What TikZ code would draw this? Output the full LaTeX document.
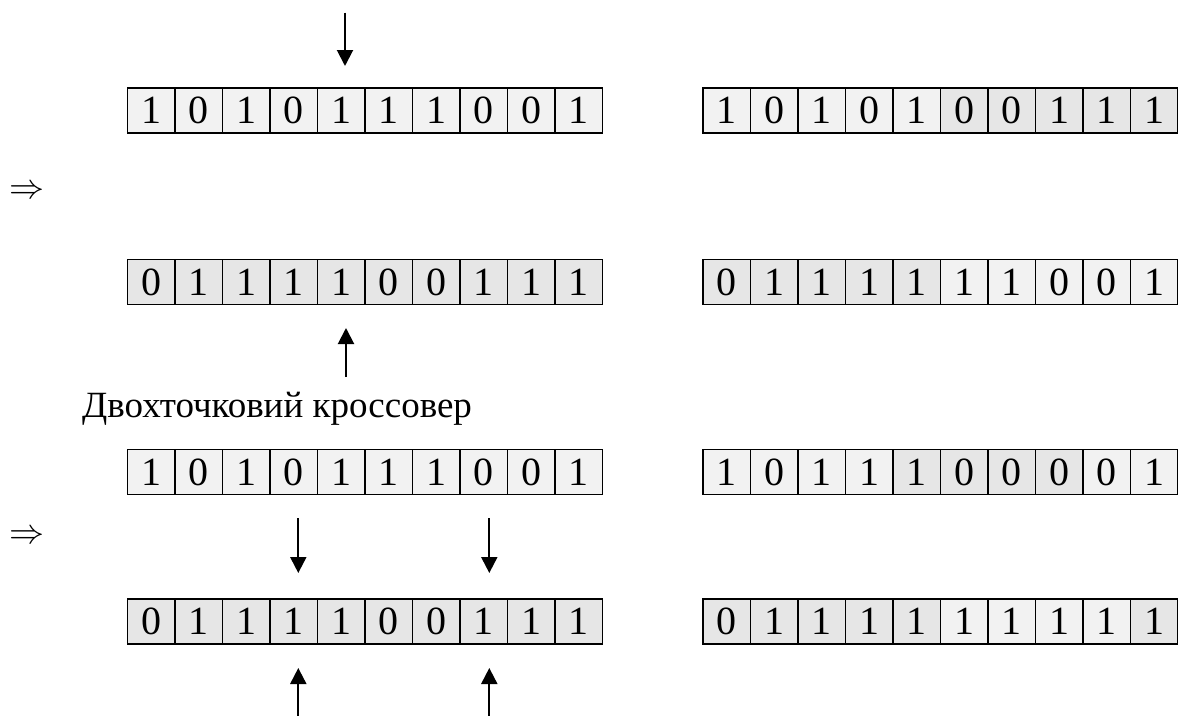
\documentclass[tikz,border=0pt]{standalone}
\usepackage{fontspec}
\setmainfont{Liberation Serif}
\usetikzlibrary{arrows.meta}
\definecolor{cellA}{HTML}{F2F2F2}
\definecolor{cellB}{HTML}{E6E6E6}
\newcommand\bitrow[4]{%
  \foreach \b/\f [count=\i] in {#4} {
    \node[bit,fill=\f] (#1-\i) at ({#2+(\i-0.5)*47.5},#3) {\b};
  }}
\begin{document}
\begin{tikzpicture}[x=1pt,y=-1pt,
  bit/.style={draw=black,line width=1.8pt,minimum width=47.5pt,minimum height=45pt,
    inner sep=0pt,outer sep=0pt,font=\fontsize{40}{42}\selectfont},
  ptr/.style={line width=2pt,-{Triangle[width=16pt,length=16pt]}},
  lbl/.style={inner sep=0pt,font=\fontsize{37}{40}\selectfont},
  impl/.style={inner sep=0pt,scale=3.5}]
\useasboundingbox (0,0) rectangle (1178,715);

% row 1
\bitrow{r1L}{127.5}{110.5}{1/cellA,0/cellA,1/cellA,0/cellA,1/cellA,1/cellA,1/cellA,0/cellA,0/cellA,1/cellA}
\bitrow{r1R}{703}{110.5}{1/cellA,0/cellA,1/cellA,0/cellA,1/cellA,0/cellB,0/cellB,1/cellB,1/cellB,1/cellB}
% row 2
\bitrow{r2L}{127.5}{282}{0/cellB,1/cellB,1/cellB,1/cellB,1/cellB,0/cellB,0/cellB,1/cellB,1/cellB,1/cellB}
\bitrow{r2R}{703}{282}{0/cellB,1/cellB,1/cellB,1/cellB,1/cellB,1/cellA,1/cellA,0/cellA,0/cellA,1/cellA}
% row 3
\bitrow{r3L}{127.5}{472}{1/cellA,0/cellA,1/cellA,0/cellA,1/cellA,1/cellA,1/cellA,0/cellA,0/cellA,1/cellA}
\bitrow{r3R}{703}{472}{1/cellA,0/cellA,1/cellA,1/cellA,1/cellB,0/cellB,0/cellB,0/cellB,0/cellA,1/cellA}
% row 4
\bitrow{r4L}{127.5}{621.5}{0/cellB,1/cellB,1/cellB,1/cellB,1/cellB,0/cellB,0/cellB,1/cellB,1/cellB,1/cellB}
\bitrow{r4R}{703}{621.5}{0/cellB,1/cellB,1/cellB,1/cellB,1/cellB,1/cellA,1/cellA,1/cellA,1/cellA,1/cellB}

% implication signs
\node[impl] (imp1) at (27,192) {$\Rightarrow$};
\node[impl] (imp2) at (27,537) {$\Rightarrow$};

% label
\node[lbl,anchor=base west] (title) at (82,417.7) {Двохточковий кроссовер};

% single-point arrows
\coordinate (a1s) at (345,12.5);
\coordinate (a1e) at (345,66);
\draw[ptr] (a1s) -- (a1e);
\coordinate (a2s) at (346,377);
\coordinate (a2e) at (346,328);
\draw[ptr] (a2s) -- (a2e);

% two-point arrows
\coordinate (b1s) at (298.3,518);
\coordinate (b1e) at (298.3,573);
\draw[ptr] (b1s) -- (b1e);
\coordinate (b2s) at (489.3,518);
\coordinate (b2e) at (489.3,573);
\draw[ptr] (b2s) -- (b2e);
\coordinate (c1s) at (298.3,716);
\coordinate (c1e) at (298.3,668);
\draw[ptr] (c1s) -- (c1e);
\coordinate (c2s) at (489.3,716);
\coordinate (c2e) at (489.3,668);
\draw[ptr] (c2s) -- (c2e);
\end{tikzpicture}
\end{document}
